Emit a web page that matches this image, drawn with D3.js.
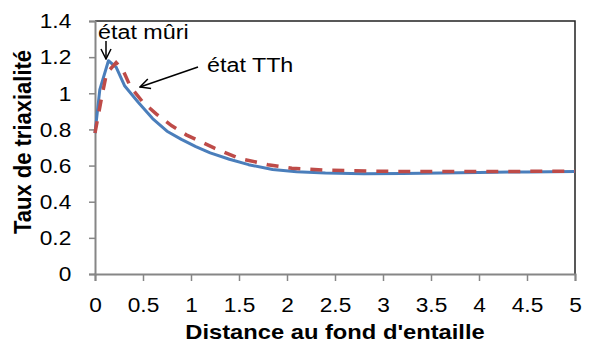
<!DOCTYPE html>
<html>
<head>
<meta charset="utf-8">
<script src="https://cdn.jsdelivr.net/npm/d3@7"></script>
<style>
  body { margin: 0; background: #fff; }
  text { font-family: "Liberation Sans", Arial, sans-serif; }
</style>
</head>
<body>
<div id="chart"></div>
<script>
// values
const xTicks = [0, 0.5, 1, 1.5, 2, 2.5, 3, 3.5, 4, 4.5, 5];
const yTicks = [0, 0.2, 0.4, 0.6, 0.8, 1, 1.2, 1.4];

const muriX = [0, 0.05, 0.14, 0.22, 0.31, 0.45, 0.6, 0.75, 0.9, 1.05, 1.2, 1.4, 1.6, 1.85, 2.1, 2.4, 2.8, 3.2, 3.6, 4, 4.5, 5];
const muriY = [0.78, 1.02, 1.18, 1.145, 1.04, 0.95, 0.86, 0.79, 0.745, 0.705, 0.67, 0.635, 0.605, 0.578, 0.566, 0.559, 0.555, 0.556, 0.559, 0.562, 0.565, 0.567];

const tthX = [0, 0.07, 0.12, 0.22, 0.29, 0.37, 0.5, 0.64, 0.8, 0.95, 1.25, 1.5, 1.8, 2.05, 2.4, 3, 3.5, 4, 4.5, 5];
const tthY = [0.78, 0.98, 1.11, 1.17, 1.13, 1.035, 0.95, 0.885, 0.82, 0.77, 0.695, 0.64, 0.605, 0.585, 0.575, 0.568, 0.567, 0.567, 0.568, 0.568];

const width = 590, height = 345;
const margin = { top: 21, right: 15, bottom: 71, left: 95 };

const svg = d3.select("#chart").append("svg")
  .attr("width", width)
  .attr("height", height);

const x = d3.scaleLinear().domain([0, 5]).range([margin.left, width - margin.right]);
const y = d3.scaleLinear().domain([0, 1.4]).range([height - margin.bottom, margin.top]);

// frame (top + right)
svg.append("path")
  .attr("d", `M${x(0)},${y(1.4)}H${x(5)}V${y(0)}`)
  .attr("fill", "none")
  .attr("stroke", "#222")
  .attr("stroke-width", 1.5);

const xAxis = svg.append("g")
  .attr("transform", `translate(0,${y(0)})`)
  .call(d3.axisBottom(x).tickValues(xTicks).tickSize(7).tickPadding(16).tickFormat(d3.format("")));

const yAxis = svg.append("g")
  .attr("transform", `translate(${x(0)},0)`)
  .call(d3.axisLeft(y).tickValues(yTicks).tickSize(6).tickPadding(16).tickFormat(d3.format("")));

[xAxis, yAxis].forEach(a => {
  a.select(".domain").attr("stroke", "#868686").attr("stroke-width", 2);
  a.selectAll(".tick line").attr("stroke", "#868686").attr("stroke-width", 1.5);
  a.selectAll(".tick text")
    .attr("fill", "#000")
    .attr("transform", "scale(1.08,1)")
    .style("font-size", "21px")
    .style("font-family", "'Liberation Sans', Arial, sans-serif");
});

const line = (xs, ys) => d3.line()
  .x(i => x(xs[i]))
  .y(i => y(ys[i]))(d3.range(xs.length));

svg.append("path")
  .attr("d", line(muriX, muriY))
  .attr("fill", "none")
  .attr("stroke", "#4a7ebb")
  .attr("stroke-width", 3)
  .attr("stroke-linejoin", "round");

svg.append("path")
  .attr("d", line(tthX, tthY))
  .attr("fill", "none")
  .attr("stroke", "#be4b48")
  .attr("stroke-width", 3.5)
  .attr("stroke-dasharray", "12,10");

// annotations
const marker = svg.append("defs").append("marker")
  .attr("id", "arr")
  .attr("viewBox", "0 0 12 12")
  .attr("refX", 11).attr("refY", 6)
  .attr("markerWidth", 12).attr("markerHeight", 12)
  .attr("markerUnits", "userSpaceOnUse")
  .attr("orient", "auto");
marker.append("path")
  .attr("d", "M1,1L11,6L1,11")
  .attr("fill", "none")
  .attr("stroke", "#000")
  .attr("stroke-width", 1.5);

svg.append("line")
  .attr("x1", 106).attr("y1", 41)
  .attr("x2", 106).attr("y2", 59)
  .attr("stroke", "#000").attr("stroke-width", 1.5)
  .attr("marker-end", "url(#arr)");
svg.append("line")
  .attr("x1", 198).attr("y1", 67)
  .attr("x2", 140).attr("y2", 87)
  .attr("stroke", "#000").attr("stroke-width", 1.5)
  .attr("marker-end", "url(#arr)");

svg.append("text")
  .attr("transform", "translate(98,39) scale(1.11,1)")
  .style("font-size", "21px")
  .text("état mûri");
svg.append("text")
  .attr("transform", "translate(207,72) scale(1.11,1)")
  .style("font-size", "21px")
  .text("état TTh");

// axis titles
svg.append("text")
  .attr("transform", `translate(${(x(0) + x(5)) / 2},339) scale(1.13,1)`)
  .attr("text-anchor", "middle")
  .style("font-size", "21px")
  .style("font-weight", "bold")
  .text("Distance au fond d'entaille");

svg.append("text")
  .attr("transform", `translate(31,142) scale(1.05,1) rotate(-90)`)
  .attr("text-anchor", "middle")
  .style("font-size", "22px")
  .style("font-weight", "bold")
  .text("Taux de triaxialité");
</script>
</body>
</html>
